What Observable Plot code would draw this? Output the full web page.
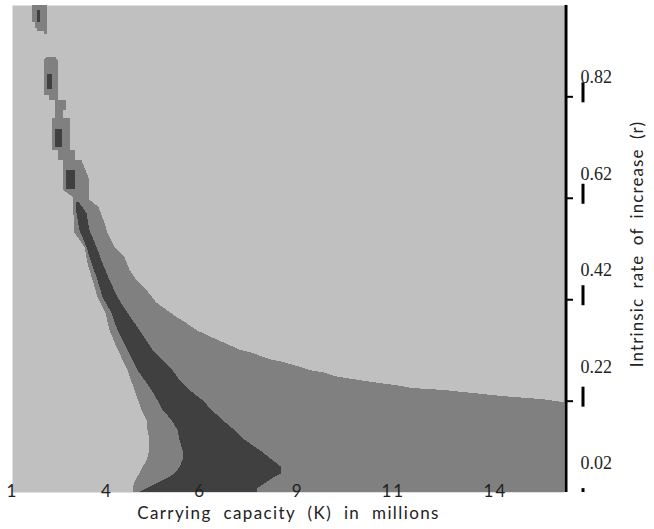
<!DOCTYPE html>
<html>
<head>
<meta charset="utf-8">
<script src="https://cdn.jsdelivr.net/npm/d3@7"></script>
<script src="https://cdn.jsdelivr.net/npm/@observablehq/plot@0.6"></script>
<style>
  html, body { margin: 0; padding: 0; background: #fff; }
  #chart svg { display: block; }
</style>
</head>
<body>
<div id="chart"></div>
<script>
// ---- Axis data ----
const K_MIN = 1, K_MAX = 15.86;      // carrying capacity (millions)
const R_MIN = 0.04, R_MAX = 1.0;     // intrinsic rate of increase
const kTicks = [1, 3.54, 6.05, 8.68, 11.25, 14];
const kTickLabels = ["1", "4", "6", "9", "11", "14"];
const rTicks = [0.82, 0.62, 0.42, 0.22, 0.02];
const xTitle = "Carrying capacity (K) in millions";
const yTitle = "Intrinsic rate of increase (r)";

// ---- Medium region: left boundary (extends to right edge) ----
const midR = [0.694, 0.635, 0.622, 0.551, 0.537, 0.523, 0.491, 0.458, 0.424, 0.393, 0.359, 0.326, 0.280, 0.241, 0.202, 0.182, 0.162, 0.143, 0.123, 0.103, 0.089, 0.077, 0.064, 0.054, 0.040];
const midLeftK = [2.386, 2.386, 2.629, 2.682, 2.817, 2.952, 3.032, 3.167, 3.301, 3.517, 3.624, 3.813, 4.109, 4.297, 4.486, 4.620, 4.647, 4.701, 4.701, 4.620, 4.513, 4.432, 4.324, 4.271, 4.244];

// ---- Upper edge of medium region (light region to the right of it) ----
const upperR = [0.694, 0.655, 0.616, 0.602, 0.570, 0.551, 0.523, 0.503, 0.478, 0.458, 0.438, 0.413, 0.399, 0.385, 0.373, 0.359, 0.340, 0.320, 0.314, 0.302, 0.296, 0.286, 0.280, 0.275, 0.269, 0.263, 0.257, 0.251, 0.245, 0.241, 0.235, 0.229, 0.223, 0.217];
const upperK = [2.871, 3.086, 3.086, 3.328, 3.490, 3.571, 3.759, 4.028, 4.163, 4.351, 4.620, 4.890, 5.159, 5.428, 5.697, 5.967, 6.532, 7.151, 7.474, 7.931, 8.308, 8.793, 9.035, 9.439, 9.654, 10.138, 10.677, 11.296, 11.780, 12.642, 13.422, 14.203, 15.280, 15.86];

// ---- Dark core band ----
const darkR = [0.612, 0.590, 0.556, 0.523, 0.491, 0.458, 0.424, 0.393, 0.359, 0.320, 0.300, 0.280, 0.261, 0.241, 0.221, 0.202, 0.182, 0.162, 0.143, 0.123, 0.103, 0.089, 0.077, 0.070, 0.060, 0.048, 0.040];
const darkLeftK = [2.709, 2.736, 2.817, 3.005, 3.140, 3.301, 3.436, 3.678, 3.840, 4.109, 4.244, 4.378, 4.567, 4.755, 4.917, 5.051, 5.293, 5.455, 5.509, 5.590, 5.590, 5.509, 5.374, 5.239, 4.970, 4.647, 4.432];
const darkRightK = [2.790, 3.005, 3.086, 3.275, 3.436, 3.624, 3.840, 4.109, 4.432, 4.782, 5.051, 5.320, 5.509, 5.778, 6.128, 6.370, 6.666, 6.989, 7.258, 7.662, 8.012, 8.254, 8.254, 8.066, 7.851, 7.608, 7.608];

// ---- Isolated medium patches near the top ----
const patchId = ["a","a","a","a","a","a","a","a", "b","b","b","b","b","b","b","b","b","b","b","b","b"];
const patchR  = [1.000, 0.966, 0.966, 0.955, 0.955, 0.949, 0.949, 0.943,
                 0.897, 0.892, 0.823, 0.823, 0.813, 0.813, 0.793, 0.793, 0.777, 0.777, 0.714, 0.714, 0.694];
const patchLeftK  = [1.525, 1.525, 1.606, 1.606, 1.686, 1.686, 1.848, 1.848,
                     1.929, 1.848, 1.848, 2.009, 2.009, 2.171, 2.171, 2.171, 2.171, 2.090, 2.090, 2.225, 2.225];
const patchRightK = [1.929, 1.929, 1.929, 1.929, 1.929, 1.929, 1.929, 1.929,
                     2.171, 2.225, 2.225, 2.225, 2.225, 2.467, 2.467, 2.386, 2.386, 2.548, 2.548, 2.709, 2.709];

// ---- Small dark cores near the top ----
const coreTopR = [0.990, 0.864, 0.756, 0.675];
const coreBotR = [0.966, 0.834, 0.720, 0.637];
const coreLeftK = [1.686, 1.929, 2.171, 2.467];
const coreRightK = [1.767, 2.090, 2.359, 2.709];

const LIGHT = "#c0c0c0", MID = "#808080", DARK = "#404040";

const mid = midR.map((r, i) => ({r, k: midLeftK[i]}));
const upper = upperR.map((r, i) => ({r, k: upperK[i]}));
const dark = darkR.map((r, i) => ({r, k1: darkLeftK[i], k2: darkRightK[i]}));
const patches = patchR.map((r, i) => ({id: patchId[i], r, k1: patchLeftK[i], k2: patchRightK[i]}));
const cores = coreTopR.map((r, i) => ({r1: r, r2: coreBotR[i], k1: coreLeftK[i], k2: coreRightK[i]}));
const kt = kTicks.map((k, i) => ({k, label: kTickLabels[i]}));
const labelR = r => r + 0.038 + (0.82 - r) * 0.0486;
const crisp = {shapeRendering: "crispEdges"};

const chart = Plot.plot({
  width: 654,
  height: 529,
  marginTop: 5,
  marginBottom: 37,
  marginLeft: 12,
  marginRight: 90,
  x: {domain: [K_MIN, K_MAX], axis: null},
  y: {domain: [R_MIN, R_MAX]},
  marks: [
    Plot.frame({fill: LIGHT, stroke: null}),
    Plot.areaX(mid, {y: "r", x1: "k", x2: K_MAX, fill: MID, ...crisp}),
    Plot.areaX(upper, {y: "r", x1: "k", x2: K_MAX, fill: LIGHT, ...crisp}),
    Plot.areaX(patches, {y: "r", x1: "k1", x2: "k2", z: "id", fill: MID, ...crisp}),
    Plot.areaX(dark, {y: "r", x1: "k1", x2: "k2", fill: DARK, ...crisp}),
    Plot.rect(cores, {x1: "k1", x2: "k2", y1: "r1", y2: "r2", fill: DARK, ...crisp}),
    Plot.ruleX([K_MAX], {stroke: "#000", strokeWidth: 3, dx: 1.5}),
    Plot.axisY(rTicks.slice(0, 4), {anchor: "right", tickSize: 8, strokeWidth: 2, tickFormat: () => "", label: null}),
    Plot.ruleX(rTicks, {x: () => K_MAX, y1: d => d + 0.0276, y2: d => Math.max(d - 0.0118, R_MIN), dx: 18.5, stroke: "#000", strokeWidth: 3}),
    Plot.text(rTicks, {y: labelR, text: d => d.toFixed(2), frameAnchor: "right", dx: 16, textAnchor: "start", fontSize: 18, fontFamily: "Liberation Serif", fill: "#222"}),
    Plot.text(kt, {x: "k", text: "label", frameAnchor: "bottom", dy: 4, fontSize: 17, fontFamily: "Lato", fill: "#222"}),
    Plot.text([xTitle], {frameAnchor: "bottom", dy: 26, textAnchor: "middle", fontSize: 17, fontFamily: "Lato", fill: "#222"}),
    Plot.text([yTitle], {frameAnchor: "right", dx: 73, dy: -5, textAnchor: "middle", rotate: -90, fontSize: 17, fontFamily: "Lato", fill: "#222"})
  ]
});
document.getElementById("chart").appendChild(chart);

// letter/word spacing of the labels, as in the reference typography
d3.select(chart).selectAll("text").each(function () {
  const t = this.textContent;
  const s = d3.select(this);
  if (t === xTitle) s.style("letter-spacing", "1.4px").style("word-spacing", "6px");
  else if (t === yTitle) s.style("letter-spacing", "1.1px").style("word-spacing", "4px");
  else if (kTickLabels.includes(t)) s.style("letter-spacing", "2px");
});
</script>
</body>
</html>
